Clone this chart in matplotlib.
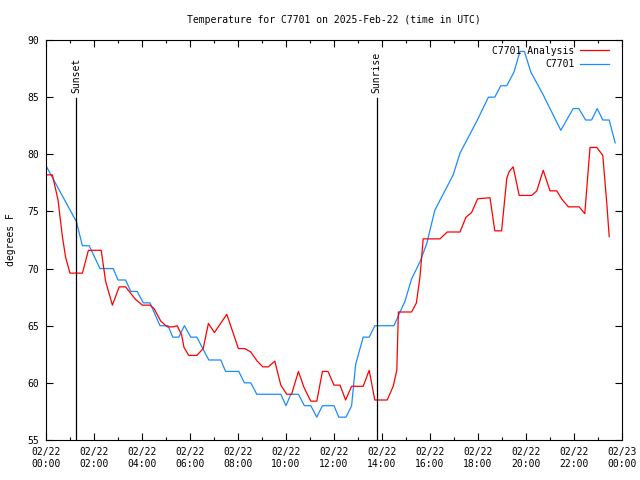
import matplotlib
matplotlib.use('Agg')
import matplotlib.pyplot as plt
import numpy as np

plt.rcParams['font.family'] = 'DejaVu Sans Mono'
plt.rcParams['font.size'] = 7

# observed station temperatures (time UTC, deg F)
obs_times = ['00:00', '01:16', '01:31', '01:48', '02:15', '02:48', '03:00', '03:19',
             '03:32', '03:48', '04:03', '04:20', '04:45', '05:05', '05:17', '05:32',
             '05:46', '06:02', '06:17', '06:47', '07:17', '07:29', '08:02', '08:16',
             '08:32', '08:47', '09:47', '10:00', '10:12', '10:31', '10:46', '11:02',
             '11:17', '11:31', '12:00', '12:12', '12:30', '12:44', '12:54', '13:13',
             '13:28', '13:42', '14:30', '14:45', '14:57', '15:14', '15:35', '15:52',
             '16:12', '16:58', '17:15', '17:57', '18:26', '18:42', '18:57', '19:12',
             '19:30', '19:45', '19:56', '20:12', '20:43', '21:27', '21:58', '22:12',
             '22:29', '22:44', '22:58', '23:12', '23:28', '23:43']
obs_temps = [79, 74.1, 72, 72, 70, 70, 69, 69,
             68, 68, 67, 67, 65, 65, 64, 64,
             65, 64, 64, 62, 62, 61, 61, 60,
             60, 59, 59, 58, 59, 59, 58, 58,
             57, 58, 58, 57, 57, 58, 61.6, 64,
             64, 65, 65, 66.2, 67.1, 69.1, 70.6, 72.2,
             75.1, 78.2, 80.1, 82.9, 85, 85, 86, 86,
             87.2, 89, 89, 87.2, 85.2, 82.1, 84, 84,
             83, 83, 84, 83, 83, 81]

# analysis temperatures
ana_times = ['00:00', '00:16', '00:30', '00:41', '00:49', '01:00', '01:31', '01:46',
             '02:18', '02:29', '02:46', '03:03', '03:19', '03:44', '04:01', '04:20',
             '04:30', '04:47', '05:03', '05:18', '05:28', '05:39', '05:45', '05:57',
             '06:17', '06:33', '06:46', '07:01', '07:32', '08:01', '08:17', '08:32',
             '08:48', '09:02', '09:16', '09:32', '09:47', '10:02', '10:14', '10:31',
             '10:45', '11:02', '11:17', '11:31', '11:45', '12:00', '12:15', '12:29',
             '12:44', '13:13', '13:28', '13:42', '14:13', '14:28', '14:37', '14:41',
             '15:14', '15:26', '15:35', '15:43', '16:25', '16:43', '17:15', '17:30',
             '17:44', '17:59', '18:30', '18:42', '18:59', '19:12', '19:18', '19:28',
             '19:43', '20:14', '20:27', '20:43', '21:00', '21:17', '21:29', '21:46',
             '22:13', '22:27', '22:40', '22:57', '23:12', '23:22', '23:28']
ana_temps = [78.2, 78.2, 76, 72.8, 71.0, 69.6, 69.6, 71.6,
             71.6, 68.9, 66.8, 68.4, 68.4, 67.3, 66.8, 66.8,
             66.5, 65.4, 64.9, 64.9, 65, 64.2, 63.1, 62.4,
             62.4, 63.0, 65.2, 64.4, 66.0, 63.0, 63.0, 62.7,
             61.9, 61.4, 61.4, 61.9, 59.8, 59.0, 59.0, 61.0,
             59.6, 58.4, 58.4, 61.0, 61.0, 59.8, 59.8, 58.5,
             59.7, 59.7, 61.1, 58.5, 58.5, 59.7, 61.1, 66.2,
             66.2, 67.0, 69.3, 72.6, 72.6, 73.2, 73.2, 74.5,
             74.9, 76.1, 76.2, 73.3, 73.3, 77.9, 78.5, 78.9,
             76.4, 76.4, 76.8, 78.6, 76.8, 76.8, 76.1, 75.4,
             75.4, 74.8, 80.6, 80.6, 79.9, 75.7, 72.8]

sun_events = ['Sunset', 'Sunrise']
sun_times = ['01:15', '13:47']

tick_labels = ['02/22\n00:00', '02/22\n02:00', '02/22\n04:00', '02/22\n06:00',
               '02/22\n08:00', '02/22\n10:00', '02/22\n12:00', '02/22\n14:00',
               '02/22\n16:00', '02/22\n18:00', '02/22\n20:00', '02/22\n22:00',
               '02/23\n00:00']


def to_hours(t):
    hh, mm = t.split(':')
    return int(hh) + int(mm) / 60.0


obs_x = [to_hours(t) for t in obs_times]
ana_x = [to_hours(t) for t in ana_times]

fig = plt.figure(figsize=(6.4, 4.8), dpi=100)
ax = fig.add_axes([46 / 640, 40 / 480, 576 / 640, 400 / 480])

l_obs, = ax.plot(obs_x, obs_temps, color='#1a8cff', lw=0.9)
l_ana, = ax.plot(ana_x, ana_temps, color='#ff0000', lw=0.9)

for name, t in zip(sun_events, sun_times):
    h = to_hours(t)
    ax.plot([h, h], [55, 84.9], color='black', lw=0.9)
    ax.text(h, 85.4, name, rotation=90, ha='center', va='bottom')

ax.set_xlim(0, 24)
ax.set_ylim(55, 90)
ax.set_xticks(np.arange(0, 25, 2))
ax.set_xticks(np.arange(0, 25, 1), minor=True)
ax.set_xticklabels(tick_labels)
ax.set_yticks(np.arange(55, 91, 5))
ax.tick_params(which='both', direction='in', top=True, right=True, width=0.8)
ax.tick_params(which='major', length=5, pad=5)
ax.tick_params(which='minor', length=2.5)
for s in ax.spines.values():
    s.set_linewidth(0.8)

ax.set_ylabel('degrees F', labelpad=8)
ax.set_title('Temperature for C7701 on 2025-Feb-22 (time in UTC)', fontsize=7, pad=12)

ax.legend([l_ana, l_obs], ['C7701 Analysis', 'C7701'], loc='upper right',
          bbox_to_anchor=(0.987, 1.0), frameon=False, markerfirst=False,
          handlelength=2.9, labelspacing=0.35, handletextpad=0.6,
          borderaxespad=0.2, fontsize=7)

fig.savefig('out.png', dpi=100)
